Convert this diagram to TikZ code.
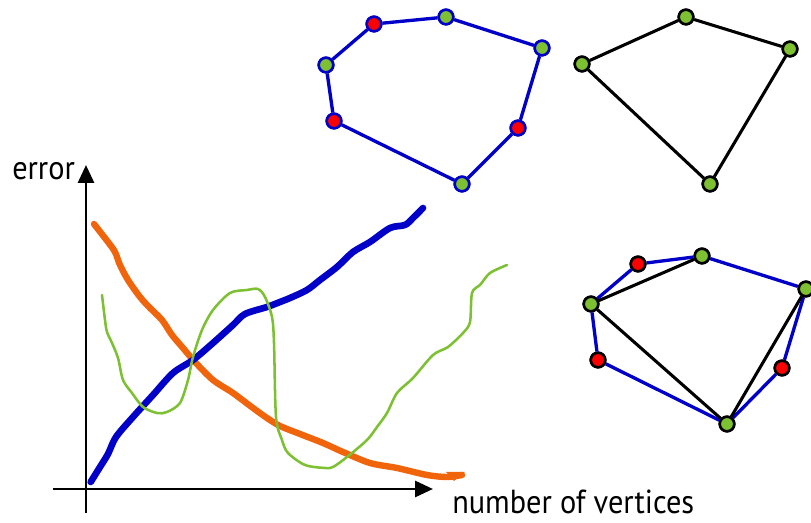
\documentclass[tikz,border=0pt]{standalone}
\usepackage{fontspec}
\setmainfont{PT Sans}
\newfontfamily\labfont[FakeStretch=0.91]{PT Sans}
\usetikzlibrary{arrows.meta}
\definecolor{vblue}{RGB}{0,0,200}
\definecolor{vgreen}{RGB}{125,192,50}
\definecolor{vred}{RGB}{255,0,0}
\definecolor{vorange}{RGB}{240,100,12}
\tikzset{
  vtx/.style={circle,inner sep=0pt,minimum size=10.9pt,line width=1.9pt},
  gb/.style={vtx,draw=vblue,fill=vgreen},
  rb/.style={vtx,draw=vblue,fill=vred},
  gk/.style={vtx,draw=black,fill=vgreen},
  rk/.style={vtx,draw=black,fill=vred},
  bedge/.style={draw=vblue,line width=2.5pt},
  kedge/.style={draw=black,line width=2.3pt},
  axis/.style={draw=black,line width=2.2pt,-{Triangle[length=13.5pt,width=12pt]}},
  lab/.style={inner sep=0pt,font=\labfont\fontsize{25}{30}\selectfont},
  curve/.style={line cap=round,line join=round},
}
\begin{document}
\begin{tikzpicture}[x=0.75pt,y=-0.75pt]
\useasboundingbox (0,0) rectangle (811,523);
% ---- top-left polygon
\node[gb] (a1) at (326,65) {};
\node[rb] (a2) at (374,24) {};
\node[gb] (a3) at (446,17) {};
\node[gb] (a4) at (542,48) {};
\node[rb] (a5) at (518,128) {};
\node[gb] (a6) at (462,184) {};
\node[rb] (a7) at (334,121) {};
\path[bedge] (a1) -- (a2) -- (a3) -- (a4) -- (a5) -- (a6) -- (a7) -- (a1);
\foreach \n/\s in {a1/gb,a2/rb,a3/gb,a4/gb,a5/rb,a6/gb,a7/rb}{\node[\s] at (\n) {};}
% ---- top-right polygon
\node[gk] (b1) at (582,64) {};
\node[gk] (b2) at (686,17) {};
\node[gk] (b3) at (790,49) {};
\node[gk] (b4) at (710,184) {};
\path[kedge] (b1) -- (b2) -- (b3) -- (b4) -- (b1);
\foreach \n in {b1,b2,b3,b4}{\node[gk] at (\n) {};}
% ---- bottom-right overlay
\node[gk] (c1) at (591,304) {};
\node[rk] (c2) at (638,264) {};
\node[gk] (c3) at (702,256) {};
\node[gk] (c4) at (806,289) {};
\node[rk] (c5) at (782,368) {};
\node[gk] (c6) at (727,424) {};
\node[rk] (c7) at (598,360) {};
\path[bedge] (c1) -- (c2) -- (c3) -- (c4) -- (c5) -- (c6) -- (c7) -- (c1);
\path[kedge] (c1) -- (c3);
\path[kedge] (c1) -- (c6);
\path[kedge] (c6) -- (c4);
\foreach \n/\s in {c1/gk,c2/rk,c3/gk,c4/gk,c5/rk,c6/gk,c7/rk}{\node[\s] at (\n) {};}
% ---- axes
\coordinate (o1) at (86,513);
\coordinate (ytip) at (86,165);
\coordinate (o2) at (53,489);
\coordinate (xtip) at (433,489);
\path[axis] (o1) -- (ytip);
\path[axis] (o2) -- (xtip);
\node[lab,anchor=base west] (err) at (12,180) {error};
\node[lab,anchor=base west] (nv) at (452,514) {number of vertices};
% ---- curves
\draw[vorange,line width=4.8pt,curve] plot[smooth,tension=0.5] coordinates {
(94,224) (108,242) (115,252) (120,265) (128,280) (140,297) (150,308) (162,320) (172,335)
(183,348) (195,362) (213,380) (233,393) (253,408) (267,418) (280,426) (300,434) (323,443)
(343,452) (370,463) (397,468) (427,475) (447,477) (462,475)};
\fill[vorange] (446,472) -- (465,472) -- (454,481) -- cycle;
\draw[vblue,line width=5pt,curve] plot[smooth,tension=0.5] coordinates {
(90.7,482) (100,467) (108,454) (116,437) (133,417) (153,395) (173,373) (193,360) (213,343)
(233,325) (245,314) (267,307) (280,302) (290,298) (307,290) (320,280) (337,267) (353,252)
(370,242) (390,228) (405,225) (413,218) (423,208)};
\draw[vgreen,line width=1.9pt,curve] plot[smooth,tension=0.5] coordinates {
(102,295) (105,320) (107,332) (112,343) (118,358) (123,380) (132,393) (143,407) (157,413)
(167,412) (180,403) (188,380) (193,357) (202,330) (213,310) (230,293) (247,290) (258,289)
(265,297) (272,317) (274,343) (276,417) (282,440) (288,453) (305,465) (325,468) (333,467)
(347,457) (367,440) (377,427) (387,413) (397,393) (413,378) (433,355) (448,347) (463,333)
(470,322) (472,293) (480,285) (490,273) (507,265)};
\end{tikzpicture}
\end{document}
